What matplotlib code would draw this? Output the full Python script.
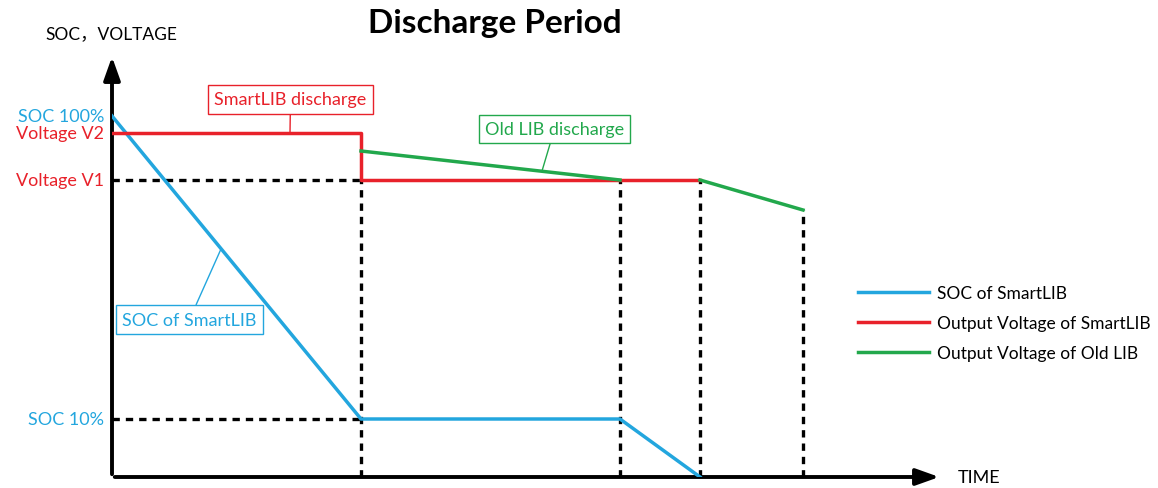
import matplotlib
matplotlib.use("Agg")
import matplotlib.pyplot as plt

plt.rcParams['font.family'] = ['Lato', 'Noto Sans CJK SC', 'DejaVu Sans']

# schematic levels (arbitrary units, origin at the axes corner)
t_marks = [0, 249, 508, 588, 691]
soc_t = [0, 249, 508, 588]
soc_v = [361, 58, 58, 0]
smart_t = [0, 249, 249, 588]
smart_v = [344, 344, 297, 297]
old_t1, old_v1 = [249, 508], [326, 297]
old_t2, old_v2 = [588, 691], [297, 267]
level_names = ["SOC 100%", "Voltage V2", "Voltage V1", "SOC 10%"]
level_vals = [361, 344, 297, 58]
legend_labels = ["SOC of SmartLIB", "Output Voltage of SmartLIB", "Output Voltage of Old LIB"]

blue = '#23A6DE'
red = '#E8212A'
green = '#22A84C'
level_cols = [blue, red, red, blue]

W, H = 1158, 489
fig = plt.figure(figsize=(W / 100, H / 100), dpi=100)
ax = fig.add_axes([112 / W, 11 / H, 830 / W, 423 / H])
ax.set_xlim(0, 830)
ax.set_ylim(0, 423)
ax.axis('off')

# axes with arrow heads
ax.annotate('', xy=(0, 1), xytext=(0, 0), xycoords='axes fraction',
            arrowprops=dict(arrowstyle='-|>,head_length=1.4,head_width=0.5', lw=2.8, color='black'))
ax.annotate('', xy=(1, 0), xytext=(0, 0), xycoords='axes fraction',
            arrowprops=dict(arrowstyle='-|>,head_length=1.4,head_width=0.5', lw=2.8, color='black'))

# dashed guides
dash = dict(color='black', lw=2.4, ls=(0, (2.2, 1.8)), zorder=1)
ax.plot([0, t_marks[1]], [smart_v[-1]] * 2, **dash)
ax.plot([0, t_marks[1]], [soc_v[1]] * 2, **dash)
ax.plot([t_marks[1]] * 2, [0, smart_v[-1]], **dash)
ax.plot([t_marks[2]] * 2, [0, smart_v[-1]], **dash)
ax.plot([t_marks[3]] * 2, [0, smart_v[-1]], **dash)
ax.plot([t_marks[4]] * 2, [0, old_v2[-1]], **dash)

l1, = ax.plot(soc_t, soc_v, color=blue, lw=2.5, zorder=3)
l2, = ax.plot(smart_t, smart_v, color=red, lw=2.5, zorder=3)
l3, = ax.plot(old_t1, old_v1, color=green, lw=2.5, zorder=4)
ax.plot(old_t2, old_v2, color=green, lw=2.5, zorder=4)

for name, v, c in zip(level_names, level_vals, level_cols):
    ax.text(-8, v, name, color=c, fontsize=13, ha='right', va='center', clip_on=False)

# callout boxes
def callout(txt, xy, xytext, c):
    ax.annotate(txt, xy=xy, xytext=xytext, color=c, fontsize=13, ha='center', va='center',
                bbox=dict(boxstyle='square,pad=0.35', fc='white', ec=c, lw=1),
                arrowprops=dict(arrowstyle='-', color=c, lw=1, shrinkA=0, shrinkB=0),
                annotation_clip=False, zorder=5)

callout("SmartLIB discharge", (178, 344), (178.5, 377.5), red)
callout("Old LIB discharge", (430, 306), (442.5, 348), green)
callout("SOC of SmartLIB", (109, 228), (77.5, 157.5), blue)

fig.text(495 / W, 1 - 24 / H, "Discharge Period", fontsize=24, fontweight='bold',
         ha='center', va='center')
fig.text(45 / W, 1 - 34 / H, "SOC，VOLTAGE", fontsize=12.5, ha='left', va='center')
fig.text(958 / W, 1 - 478 / H, "TIME", fontsize=13, ha='left', va='center')

fig.legend([l1, l2, l3], legend_labels, loc='upper left', bbox_to_anchor=(842 / W, 1 - 270 / H),
           frameon=False, fontsize=12.5, handlelength=4.1, handletextpad=0.5, labelspacing=0.82)

fig.savefig('out.png', dpi=100)
